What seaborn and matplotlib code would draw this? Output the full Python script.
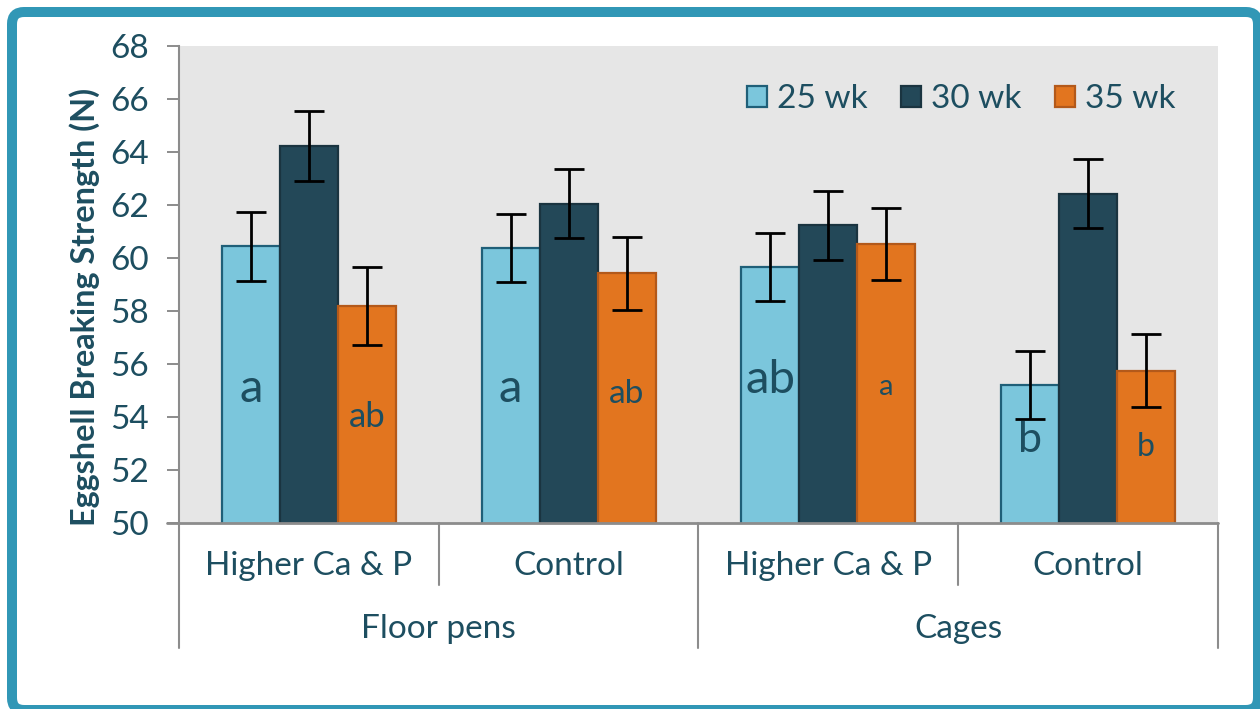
import pandas as pd
import matplotlib.pyplot as plt
import matplotlib.patches as mpatches
import matplotlib.transforms as mtransforms
from matplotlib.lines import Line2D
import seaborn as sns

# Chart data
systems = ["Floor pens", "Floor pens", "Cages", "Cages"]
diets = ["Higher Ca & P", "Control", "Higher Ca & P", "Control"]
weeks = ["25 wk", "30 wk", "35 wk"]
strength_25 = [60.45, 60.38, 59.66, 55.20]
strength_30 = [64.23, 62.05, 61.23, 62.43]
strength_35 = [58.19, 59.43, 60.53, 55.75]
sem_25 = [1.30, 1.28, 1.28, 1.28]
sem_30 = [1.32, 1.31, 1.30, 1.31]
sem_35 = [1.47, 1.38, 1.37, 1.38]
letters_25 = ["a", "a", "ab", "b"]
letters_35 = ["ab", "ab", "a", "b"]

# where the letters sit (y, data units) and how big they are
letter_y_25 = [55.06, 55.06, 55.40, 53.13]
letter_y_35 = [54.00, 54.87, 55.13, 52.87]
letter_size_25 = [34, 34, 34, 31]
letter_size_35 = [25, 24, 21, 23]

TEXT = "#1d4e60"
GREY = "#8c8c8c"
fills = {"25 wk": "#7bc6dc", "30 wk": "#234858", "35 wk": "#e2751f"}
edges = {"25 wk": "#1f5f78", "30 wk": "#1a3440", "35 wk": "#b3591a"}

cats = [f"{s}|{d}" for s, d in zip(systems, diets)]
df = pd.DataFrame({
    "cat": cats * 3,
    "week": [w for w in weeks for _ in cats],
    "value": strength_25 + strength_30 + strength_35,
})
sems = {"25 wk": sem_25, "30 wk": sem_30, "35 wk": sem_35}

sns.set_style("white")
plt.rcParams["font.family"] = ["Lato", "DejaVu Sans"]

fig = plt.figure(figsize=(12.6, 7.09), dpi=100)
ax = fig.add_axes([179 / 1260, 1 - 523 / 709, 1039 / 1260, 477 / 709])
ax.set_facecolor("#e6e6e6")

sns.barplot(data=df, x="cat", y="value", hue="week", order=cats, hue_order=weeks,
            palette=fills, width=0.67, saturation=1, errorbar=None, ax=ax)

# bar edges, error bars and the letters
for week, cont in zip(weeks, ax.containers):
    xs = []
    for bar in cont:
        bar.set_edgecolor(edges[week])
        bar.set_linewidth(1.6)
        xs.append(bar.get_x() + bar.get_width() / 2)
    ys = [b.get_height() for b in cont]
    ax.errorbar(xs, ys, yerr=sems[week], fmt="none", ecolor="black",
                elinewidth=2, capsize=11, capthick=2, zorder=5)
    if week == "25 wk":
        for x, t, y, s in zip(xs, letters_25, letter_y_25, letter_size_25):
            ax.text(x, y, t, ha="center", va="center", fontsize=s, color=TEXT, zorder=6)
    if week == "35 wk":
        for x, t, y, s in zip(xs, letters_35, letter_y_35, letter_size_35):
            ax.text(x, y, t, ha="center", va="center", fontsize=s, color=TEXT, zorder=6)

ax.set_ylim(50, 68)
ax.set_xlim(-0.5, 3.5)
ax.set_yticks(range(50, 69, 2))
ax.tick_params(axis="y", direction="out", length=8.6, width=1.4, color=GREY,
               labelsize=24, labelcolor=TEXT, pad=13, left=True)
ax.set_xticks([])
ax.set_xlabel("")
ax.set_ylabel("Eggshell Breaking Strength (N)", fontsize=23.3, fontweight="bold", color=TEXT)
ax.yaxis.set_label_coords(-0.076, 0.452)

for side in ["top", "right", "bottom"]:
    ax.spines[side].set_visible(False)
ax.spines["left"].set_color(GREY)
ax.spines["left"].set_linewidth(1.5)

# two level category axis
tr = mtransforms.blended_transform_factory(ax.transData, ax.transAxes)
ax.add_line(Line2D([-0.5 - 0.046, 3.5], [0, 0], transform=tr, color=GREY, lw=2, clip_on=False))
for x in [-0.5, 1.5, 3.5]:
    ax.add_line(Line2D([x, x], [0, -0.262], transform=tr, color=GREY, lw=1.5, clip_on=False))
for x in [0.5, 2.5]:
    ax.add_line(Line2D([x, x], [0, -0.130], transform=tr, color=GREY, lw=1.5, clip_on=False))
for i, d in enumerate(diets):
    ax.text(i, -0.090, d, transform=tr, ha="center", va="center", fontsize=24, color=TEXT)
for i, s in enumerate(["Floor pens", "Cages"]):
    ax.text(0.5 + 2 * i, -0.222, s, transform=tr, ha="center", va="center", fontsize=24, color=TEXT)

# legend
handles = [mpatches.Patch(facecolor=fills[w], edgecolor=edges[w], linewidth=1.6, label=w)
           for w in weeks]
ax.get_legend().remove()
ax.legend(handles=handles, ncol=3, loc="center right", bbox_to_anchor=(0.972, 0.889),
          frameon=False, fontsize=24, labelcolor=TEXT, handlelength=0.6, handleheight=0.6,
          handletextpad=0.3, columnspacing=1.0, borderaxespad=0)

# outer rounded frame
frame = mpatches.FancyBboxPatch((12, -1), 1246, 698, boxstyle="round,pad=0,rounding_size=12",
                                transform=mtransforms.IdentityTransform(),
                                facecolor="none", edgecolor="#3197b6", linewidth=7.2)
fig.patches.append(frame)

fig.savefig("out.png", dpi=100)
